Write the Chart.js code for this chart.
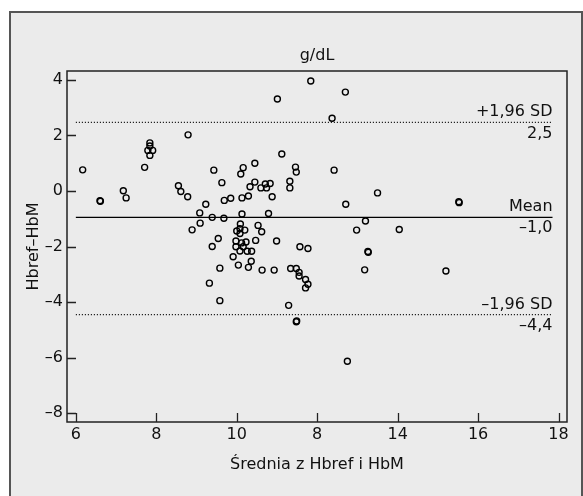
<!DOCTYPE html>
<html>
<head>
<meta charset="utf-8">
<script src="https://cdn.jsdelivr.net/npm/chart.js@4.4.1/dist/chart.umd.min.js"></script>
<style>
  body { margin: 0; background: #fff; overflow: hidden; }
  #frame { position: absolute; left: 9px; top: 11px; width: 570px; height: 600px;
           border: 2px solid #555; background: #ebebeb; }
  #wrap { position: absolute; left: 0; top: 0; width: 583px; height: 496px; }
</style>
</head>
<body>
<div id="frame"></div>
<div id="wrap"><canvas id="cv"></canvas></div>
<script>
// mean of the two methods (g/dL) and their difference Hbref - HbM
var meanX = [6.17, 6.60, 6.61, 7.18, 7.25, 7.71, 7.84, 7.84, 7.79, 7.91, 7.84, 8.79, 8.55, 8.61, 8.78,
  9.43, 9.63, 9.23, 9.69, 9.85, 10.13, 10.29, 10.10, 10.16, 10.45, 10.33, 10.45, 10.60, 10.71, 10.83,
  10.74, 10.88, 10.79, 11.01, 11.12, 11.32, 11.32, 11.46, 11.48, 11.84, 9.08, 9.39, 9.68, 10.13, 9.09,
  8.89, 9.54, 9.39, 10.00, 10.09, 10.08, 10.08, 10.20, 9.98, 9.98, 10.12, 10.23, 10.16, 10.08, 10.26,
  10.37, 9.91, 10.04, 10.29, 10.36, 10.47, 10.53, 10.62, 10.99, 10.63, 10.93, 9.58, 9.32, 9.58, 11.34,
  11.48, 11.55, 11.55, 11.57, 11.77, 11.71, 11.77, 11.71, 11.29, 11.48, 11.49, 12.70, 12.37, 12.42,
  13.50, 12.71, 15.52, 15.53, 13.20, 12.98, 14.04, 13.26, 13.27, 13.18, 15.20, 12.75];
var diffY = [0.76, -0.35, -0.37, 0.01, -0.25, 0.85, 1.73, 1.62, 1.46, 1.46, 1.28, 2.02, 0.19, -0.02, -0.21,
  0.75, 0.30, -0.48, -0.34, -0.26, -0.25, -0.18, 0.61, 0.84, 1.00, 0.15, 0.32, 0.11, 0.25, 0.27,
  0.11, -0.21, -0.81, 3.31, 1.33, 0.35, 0.11, 0.86, 0.68, 3.96, -0.79, -0.95, -0.98, -0.83, -1.16,
  -1.40, -1.71, -2.00, -1.44, -1.19, -1.36, -1.53, -1.41, -1.80, -2.01, -1.87, -1.84, -2.01, -2.16, -2.17,
  -2.17, -2.37, -2.67, -2.75, -2.53, -1.78, -1.24, -1.47, -1.80, -2.85, -2.85, -2.78, -3.32, -3.95, -2.79,
  -2.79, -2.93, -3.06, -2.01, -2.07, -3.19, -3.36, -3.49, -4.12, -4.71, -4.68, 3.56, 2.62, 0.75,
  -0.07, -0.48, -0.39, -0.42, -1.08, -1.41, -1.39, -2.18, -2.21, -2.84, -2.88, -6.13];

// reference lines: value, text above, text below
var lineVals = [2.47, -0.95, -4.45];
var lineTop = ['+1,96 SD', 'Mean', '\u20131,96 SD'];
var lineBottom = ['2,5', '\u20131,0', '\u20134,4'];
var lineSpan = [6.0, 17.85];

var xTickValues = [6, 8, 10, 12, 14, 16, 18];
var xTickLabels = ['6', '8', '10', '8', '14', '16', '18'];
var yTickValues = [4, 2, 0, -2, -4, -6, -8];
var yTickLabels = ['4', '2', '0', '\u20132', '\u20134', '\u20136', '\u20138'];

var FONT = 'DejaVu Sans';

var points = meanX.map(function (x, i) { return { x: x, y: diffY[i] }; });

function refLine(v, dashed) {
  return {
    type: 'line',
    data: [{ x: lineSpan[0], y: v }, { x: lineSpan[1], y: v }],
    borderColor: '#000',
    borderWidth: dashed ? 1.2 : 1.3,
    borderDash: dashed ? [1, 2] : [],
    pointRadius: 0,
    fill: false
  };
}

// plot frame, inward ticks, line labels and title
var decor = {
  id: 'decor',
  afterDatasetsDraw: function (chart) {
    var ctx = chart.ctx, a = chart.chartArea;
    var xs = chart.scales.x, ys = chart.scales.y;
    ctx.save();
    ctx.strokeStyle = '#222';
    ctx.lineWidth = 1.5;
    ctx.strokeRect(a.left, a.top, a.right - a.left, a.bottom - a.top);
    ctx.lineWidth = 1.3;
    ctx.beginPath();
    xTickValues.forEach(function (v) {
      var px = Math.round(xs.getPixelForValue(v)) + 0.5;
      ctx.moveTo(px, a.bottom);
      ctx.lineTo(px, a.bottom - 9);
    });
    yTickValues.forEach(function (v) {
      var py = Math.round(ys.getPixelForValue(v)) + 0.5;
      ctx.moveTo(a.left, py);
      ctx.lineTo(a.left + 9, py);
    });
    ctx.stroke();

    ctx.fillStyle = '#111';
    ctx.font = '16px "' + FONT + '"';
    ctx.textAlign = 'right';
    var rx = xs.getPixelForValue(lineSpan[1]);
    lineVals.forEach(function (v, i) {
      var py = ys.getPixelForValue(v);
      ctx.textBaseline = 'alphabetic';
      ctx.fillText(lineTop[i], rx, py - 6);
      ctx.textBaseline = 'top';
      ctx.fillText(lineBottom[i], rx, py + 3);
    });

    ctx.textAlign = 'center';
    ctx.textBaseline = 'middle';
    ctx.fillText('g/dL', (a.left + a.right) / 2, 56);
    ctx.restore();
  }
};

new Chart(document.getElementById('cv'), {
  type: 'scatter',
  data: {
    datasets: [
      {
        data: points,
        pointRadius: 3,
        pointBorderWidth: 1.4,
        pointBorderColor: '#000',
        pointBackgroundColor: 'rgba(0,0,0,0)'
      },
      refLine(lineVals[0], true),
      refLine(lineVals[1], false),
      refLine(lineVals[2], true)
    ]
  },
  options: {
    responsive: true,
    maintainAspectRatio: false,
    animation: false,
    layout: { padding: { left: 0, right: 16, top: 71, bottom: 0 } },
    plugins: { legend: { display: false }, tooltip: { enabled: false } },
    scales: {
      x: {
        type: 'linear',
        min: 5.78,
        max: 18.21,
        afterBuildTicks: function (s) { s.ticks = xTickValues.map(function (v) { return { value: v }; }); },
        afterFit: function (s) { s.height = 74; },
        grid: { display: false, drawTicks: false },
        border: { display: false },
        ticks: {
          padding: 3,
          color: '#111',
          font: { family: FONT, size: 16 },
          maxRotation: 0,
          callback: function (v) { return xTickLabels[xTickValues.indexOf(v)]; }
        },
        title: {
          display: true,
          text: '\u015arednia z Hbref i HbM',
          color: '#111',
          font: { family: FONT, size: 16 },
          padding: { top: 0, bottom: 22 }
        }
      },
      y: {
        type: 'linear',
        min: -8.32,
        max: 4.32,
        afterBuildTicks: function (s) { s.ticks = yTickValues.map(function (v) { return { value: v }; }); },
        afterFit: function (s) { s.width = 67; },
        grid: { display: false, drawTicks: false },
        border: { display: false },
        ticks: {
          padding: 4,
          color: '#111',
          font: { family: FONT, size: 16 },
          callback: function (v) { return yTickLabels[yTickValues.indexOf(v)]; }
        },
        title: {
          display: true,
          text: 'Hbref\u2013HbM',
          color: '#111',
          font: { family: FONT, size: 16 },
          padding: { top: 24, bottom: 0 }
        }
      }
    }
  },
  plugins: [decor]
});
</script>
</body>
</html>
